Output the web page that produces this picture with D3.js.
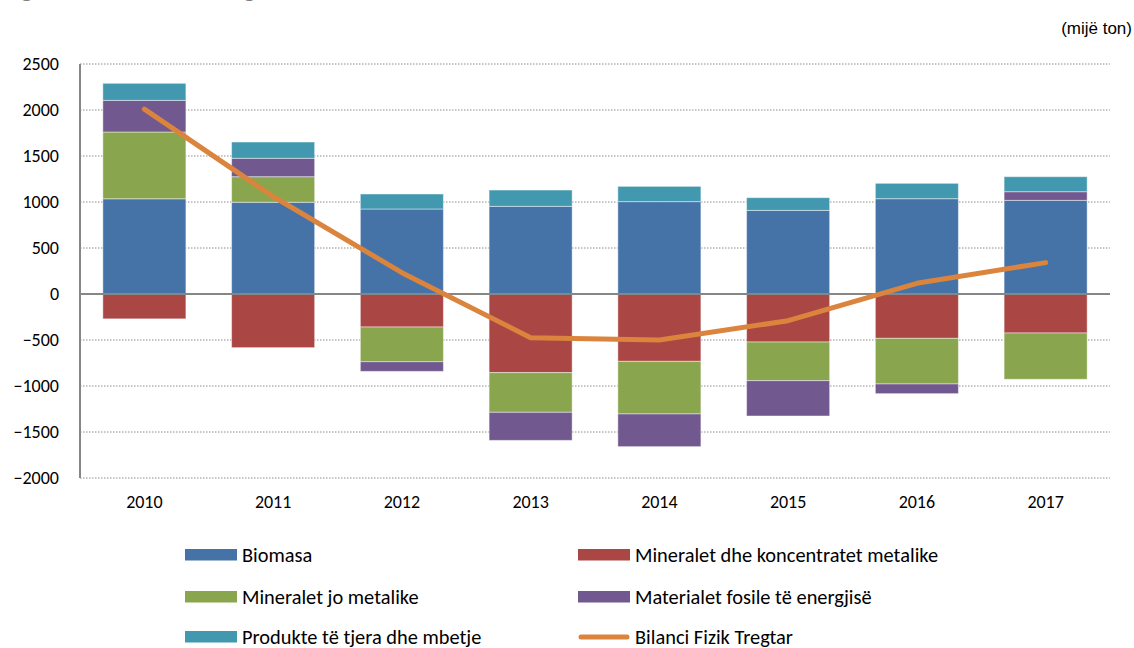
<!DOCTYPE html>
<html><head><meta charset="utf-8">
<script src="https://cdn.jsdelivr.net/npm/d3@7"></script>
<style>
body{margin:0;background:#fff;}
svg{display:block;}
.tk{font-family:Carlito,Lato,"Open Sans",sans-serif;font-size:18px;fill:#000;}
.lg{font-family:Carlito,Lato,"Open Sans",sans-serif;font-size:20.4px;fill:#000;}
</style></head>
<body>
<svg id="c" width="1134" height="648"></svg>
<script>
const years = ["2010","2011","2012","2013","2014","2015","2016","2017"];
const biomasa = [1035, 997, 924, 953, 1004, 909, 1036, 1018];
const metalike = [-270, -583, -359, -855, -732, -522, -482, -424];
const joMetalike = [726, 278, -377, -431, -572, -420, -496, -503];
const fosile = [344, 200, -105, -305, -355, -384, -105, 94];
const produkte = [185, 177, 163, 177, 166, 138, 167, 163];
const bilanci = [2010, 1060, 232, -475, -500, -290, 116, 341];
const yTicks = [-2000, -1500, -1000, -500, 0, 500, 1000, 1500, 2000, 2500];

const seriesNames = ["Biomasa","Mineralet dhe koncentratet metalike","Mineralet jo metalike","Materialet  fosile të energjisë","Produkte të tjera dhe mbetje"];
const seriesData = [biomasa, metalike, joMetalike, fosile, produkte];
const colors = ["#4572A7","#AA4643","#89A54E","#71588F","#4198AF"];
const lineColor = "#DB843D";

const svg = d3.select("#c");
const x = d3.scaleBand().domain(years).range([80,1110]).paddingInner(0.355).paddingOuter(0.1775);
const y = d3.scaleLinear().domain([-2000,2500]).range([478,64]);

// title, cut off at the top edge as in the reference (only descenders visible)
const title = svg.append("text").attr("x",3).attr("y",-3)
  .attr("font-family","Lato,sans-serif").attr("font-weight","bold").attr("font-size",22).attr("fill","#7f7f7f")
  .text("Figura 3. Bilanci Fizik Tregtar");
{
  const node = title.node();
  const idx = node.textContent.lastIndexOf("g");
  const p = node.getStartPositionOfChar(idx).x;
  if (p > 0) title.attr("font-size", 22 * 244 / p);
}

svg.append("text").attr("x",1132).attr("y",34).attr("text-anchor","end")
  .attr("font-family","'Liberation Sans',Arial,sans-serif").attr("font-size",17).text("(mijë ton)");

// gridlines
svg.append("g").selectAll("line").data(yTicks.filter(d=>d!==0)).join("line")
  .attr("x1",80).attr("x2",1110).attr("y1",d=>y(d)).attr("y2",d=>y(d))
  .attr("stroke","#8c8c8c").attr("stroke-width",1).attr("stroke-dasharray","1.5,1.5");

// stacked bars
const table = years.map((yr,i)=>{const o={year:yr}; seriesNames.forEach((n,k)=>o[n]=seriesData[k][i]); return o;});
const stack = d3.stack().keys(seriesNames).offset(d3.stackOffsetDiverging)(table);
svg.append("g").selectAll("g").data(stack).join("g").attr("fill",(d,i)=>colors[i])
  .selectAll("rect").data(d=>d).join("rect")
  .attr("x",d=>x(d.data.year)).attr("width",x.bandwidth())
  .attr("y",d=>y(Math.max(d[0],d[1]))).attr("height",d=>Math.abs(y(d[0])-y(d[1])))
  .attr("stroke","rgba(255,255,255,0.45)").attr("stroke-width",1);

// zero line and axis
svg.append("line").attr("x1",80).attr("x2",1110).attr("y1",y(0)).attr("y2",y(0))
  .attr("stroke","#868686").attr("stroke-width",2);
svg.append("line").attr("x1",80).attr("x2",80).attr("y1",y(2500)).attr("y2",y(-2000))
  .attr("stroke","#868686").attr("stroke-width",2);

// y labels
const ya = svg.append("g").attr("transform","translate(80,0)")
  .call(d3.axisLeft(y).tickValues(yTicks).tickSize(0).tickPadding(21).tickFormat(d3.format("d")));
ya.select(".domain").remove();
ya.selectAll("text").attr("class","tk");

// x labels
const xa = svg.append("g").attr("transform","translate(0,"+y(-2000)+")")
  .call(d3.axisBottom(x).tickSize(0).tickPadding(17));
xa.select(".domain").remove();
xa.selectAll("text").attr("class","tk");

// line
svg.append("path").datum(bilanci.map((v,i)=>[x(years[i])+x.bandwidth()/2, y(v)]))
  .attr("d",d3.line()).attr("fill","none").attr("stroke",lineColor).attr("stroke-width",5)
  .attr("stroke-linecap","round").attr("stroke-linejoin","round");

// legend
const legItems = [
  {n:seriesNames[0],c:colors[0],col:0,row:0},
  {n:seriesNames[1],c:colors[1],col:1,row:0},
  {n:seriesNames[2],c:colors[2],col:0,row:1},
  {n:seriesNames[3],c:colors[3],col:1,row:1},
  {n:seriesNames[4],c:colors[4],col:0,row:2},
  {n:"Bilanci Fizik Tregtar",c:lineColor,col:1,row:2,line:true}
];
const colX=[185,578], rowY=[555,597,637];
const lg = svg.append("g").selectAll("g").data(legItems).join("g")
  .attr("transform",d=>`translate(${colX[d.col]},${rowY[d.row]})`);
lg.filter(d=>!d.line).append("rect").attr("x",0).attr("y",-6).attr("width",52).attr("height",11.5).attr("fill",d=>d.c);
lg.filter(d=>d.line).append("line").attr("x1",3).attr("x2",49).attr("y1",0).attr("y2",0)
  .attr("stroke",d=>d.c).attr("stroke-width",5).attr("stroke-linecap","round");
lg.append("text").attr("class","lg").attr("x",57).attr("y",6.5).text(d=>d.n);
</script>
</body></html>
